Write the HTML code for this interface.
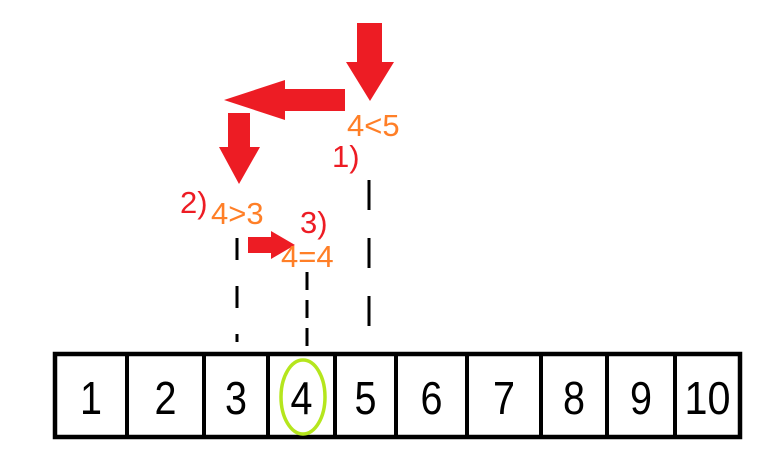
<!DOCTYPE html>
<html><head><meta charset="utf-8"><style>
body{margin:0;background:#fff}
svg{display:block}
text{font-family:"Liberation Sans",sans-serif}
</style></head><body>
<svg width="770" height="473" viewBox="0 0 770 473">
<g id="arrows" fill="#ED1C24">
<polygon points="357,23 382,23 382,62 394,62 370,101 346,62 357,62"/>
<polygon points="345,89 345,111 285,111 285,120 224,100 285,80 285,89"/>
<polygon points="228,113 250,113 250,147 260,147 239,184 219,147 228,147"/>
<polygon points="248,237 271,237 271,231 295,245 271,259 271,253 248,253"/>
</g>
<g stroke="#000" stroke-width="3" stroke-dasharray="30,28" fill="none">
<line x1="369" y1="180" x2="369" y2="336"/>
<line x1="237" y1="238" x2="237" y2="342" stroke-dasharray="22,26"/>
<line x1="307" y1="272" x2="307" y2="346" stroke-dasharray="18,10"/>
</g>
<g font-size="31">
<text x="347" y="136" fill="#FF7F27">4&lt;5</text>
<text x="332" y="167" fill="#ED1C24">1)</text>
<text x="180" y="213" fill="#ED1C24">2)</text>
<text x="211" y="224" fill="#FF7F27">4&gt;3</text>
<text x="300" y="233" fill="#ED1C24">3)</text>
<text x="281" y="267" fill="#FF7F27">4=4</text>
</g>
<g id="array"></g>
<ellipse cx="303" cy="397" rx="22" ry="37" fill="none" stroke="#B5E61D" stroke-width="3.5"/>
</svg>
<script>
const values=[1,2,3,4,5,6,7,8,9,10];
const dividers=[127,204,268,335,396,467,541,607,675];
const g=document.getElementById('array');
const ns='http://www.w3.org/2000/svg';
const L=55,R=740,T=354,B=437;
const rect=document.createElementNS(ns,'rect');
rect.setAttribute('x',L);rect.setAttribute('y',T);rect.setAttribute('width',R-L);rect.setAttribute('height',B-T);
rect.setAttribute('fill','none');rect.setAttribute('stroke','#000');rect.setAttribute('stroke-width','4.5');


g.appendChild(rect);
const edges=[L].concat(dividers,[R]);
dividers.forEach(x=>{
 const l=document.createElementNS(ns,'line');
 l.setAttribute('x1',x);l.setAttribute('x2',x);l.setAttribute('y1',T);l.setAttribute('y2',B);
 l.setAttribute('stroke','#000');l.setAttribute('stroke-width','4');
 
 
 g.appendChild(l);
});
values.forEach((v,i)=>{
 const t=document.createElementNS(ns,'text');
 t.setAttribute('x',(edges[i]+edges[i+1])/2);t.setAttribute('y',414);
 t.setAttribute('text-anchor','middle');t.setAttribute('font-size','46');
 if(v===10){t.setAttribute('textLength','46');t.setAttribute('lengthAdjust','spacingAndGlyphs');}
 else{t.setAttribute('textLength','22');t.setAttribute('lengthAdjust','spacingAndGlyphs');}
 t.textContent=v;
 
 
 g.appendChild(t);
});
</script>
</body></html>
